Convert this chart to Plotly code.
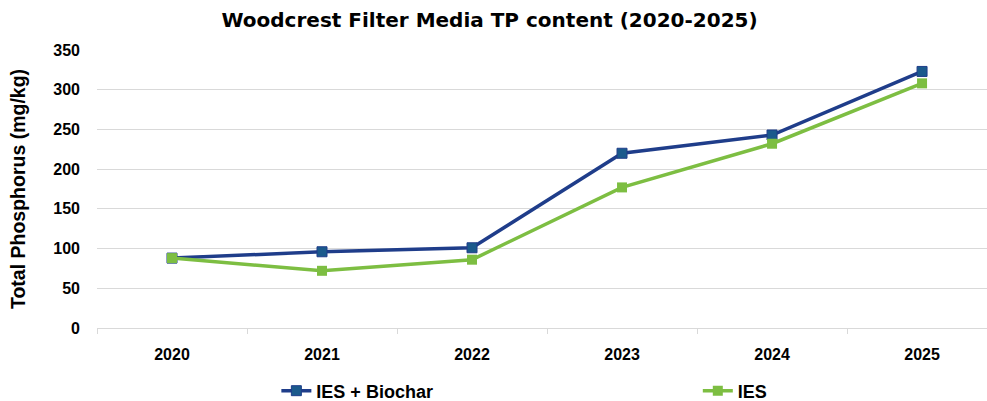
import plotly.graph_objects as go

years = ["2020", "2021", "2022", "2023", "2024", "2025"]
ies_biochar = [88, 96, 101, 220, 243, 323]
ies = [88, 72, 86, 177, 232, 308]
y_ticks = [0, 50, 100, 150, 200, 250, 300, 350]

fig = go.Figure()
fig.add_trace(go.Scatter(
    x=years, y=ies_biochar, name="IES + Biochar", mode="lines+markers",
    line=dict(color="#1F3D8A", width=3.5),
    marker=dict(symbol="square", size=10, color="#1B5A8C", line=dict(color="#1F3D8A", width=1)),
    legend="legend",
))
fig.add_trace(go.Scatter(
    x=years, y=ies, name="IES", mode="lines+markers",
    line=dict(color="#7DBE42", width=3.5),
    marker=dict(symbol="square", size=10, color="#7DBE42"),
    legend="legend2",
))

legend_font = dict(size=18, weight="bold",
                   family="Liberation Sans Narrow, Arial Narrow, Liberation Sans, sans-serif",
                   color="#000")

fig.update_layout(
    width=987, height=401,
    margin=dict(l=97, r=0, t=50, b=73, autoexpand=False),
    paper_bgcolor="white", plot_bgcolor="white",
    font=dict(family="Liberation Sans, Arial, sans-serif", color="#000000"),
    title=dict(text="Woodcrest Filter Media TP content (2020-2025)",
               x=0.496, xanchor="center", xref="container", y=0.95, yref="container", yanchor="middle",
               font=dict(size=20, family="DejaVu Sans, Verdana, sans-serif", weight="bold", color="#000")),
    xaxis=dict(type="category", range=[-0.5, 5.433], showgrid=False, automargin=False,
               showline=True, linecolor="#D9D9D9", linewidth=1,
               ticks="outside", tickson="boundaries", ticklen=5, tickcolor="#D9D9D9",
               ticklabelstandoff=12,
               tickfont=dict(size=16, weight="bold", color="#000")),
    yaxis=dict(range=[0, 350], tickvals=y_ticks, showgrid=True, gridcolor="#D9D9D9",
               gridwidth=1, zeroline=False, showline=False, automargin=False,
               tickfont=dict(size=16, weight="bold", color="#000"),
               ticklabelstandoff=16,
               title=dict(text="Total Phosphorus (mg/kg)",
                          font=dict(size=19.5, weight="bold"), standoff=22)),
    legend=dict(orientation="h", xref="container", x=0.280, xanchor="left",
                yref="container", y=0.025, yanchor="middle", font=legend_font),
    legend2=dict(orientation="h", xref="container", x=0.707, xanchor="left",
                 yref="container", y=0.025, yanchor="middle", font=legend_font),
    showlegend=True,
)

fig.write_html("out.html", config={"displayModeBar": False},
               post_script="document.body.style.margin='0';")
